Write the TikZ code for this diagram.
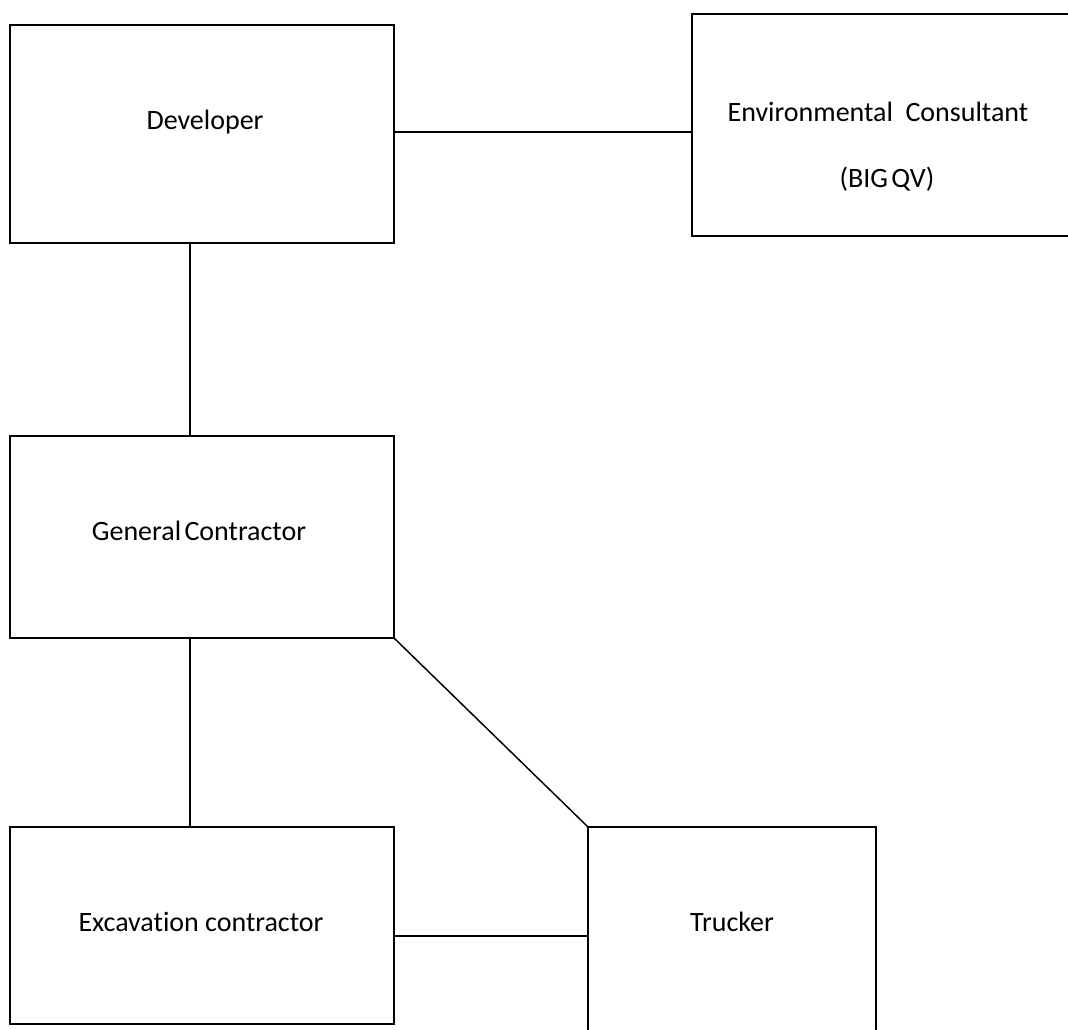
\documentclass[tikz,border=0pt]{standalone}
\usepackage{fontspec}
\setmainfont[Ligatures=NoCommon]{Carlito}
\usetikzlibrary{calc}
\begin{document}
\begin{tikzpicture}[x=0.75pt,y=-0.75pt,
  box/.style={draw=black,line width=1.1pt,rectangle,inner sep=0pt},
  lbl/.style={inner sep=0pt,font=\fontsize{21}{25}\selectfont},
  link/.style={draw=black,line width=1.1pt}]
\useasboundingbox (0,0) rectangle (1068,1029);
\clip (0,0) rectangle (1068,1029);
\node[box,minimum width=384*0.75pt,minimum height=218*0.75pt] (dev) at (202,134) {};
\node[box,minimum width=388*0.75pt,minimum height=222*0.75pt] (env) at (886,125) {};
\node[box,minimum width=384*0.75pt,minimum height=202*0.75pt] (gc) at (202,537) {};
\node[box,minimum width=384*0.75pt,minimum height=197*0.75pt] (exc) at (202,925.5) {};
\node[box,minimum width=288*0.75pt,minimum height=233*0.75pt] (tr) at (732,943.5) {};
\node[lbl] (devT) at (205,122) {Developer};
\node[lbl] (envT1) at (878,112) {Environmental\hspace{0.45em}Consultant};
\node[lbl] (envT2) at (887,179) {(BIG\hspace{0.12em}QV)};
\node[lbl] (gcT) at (199,531) {General\hspace{0.12em}Contractor};
\node[lbl] (excT) at (201,922) {Excavation contractor};
\node[lbl] (trT) at (732,922) {Trucker};
\draw[link] ([yshift=1.5pt]dev.east) -- ([yshift=1.5pt]dev.east -| env.west);
\draw[link] ([xshift=-9pt]dev.south) -- ([xshift=-9pt]gc.north);
\draw[link] ([xshift=-9pt]gc.south) -- ([xshift=-9pt]exc.north);
\draw[link] (gc.south east) -- (tr.north west);
\draw[link] ([yshift=-7.9pt]exc.east) -- ([yshift=-7.9pt]exc.east -| tr.west);
\end{tikzpicture}
\end{document}
